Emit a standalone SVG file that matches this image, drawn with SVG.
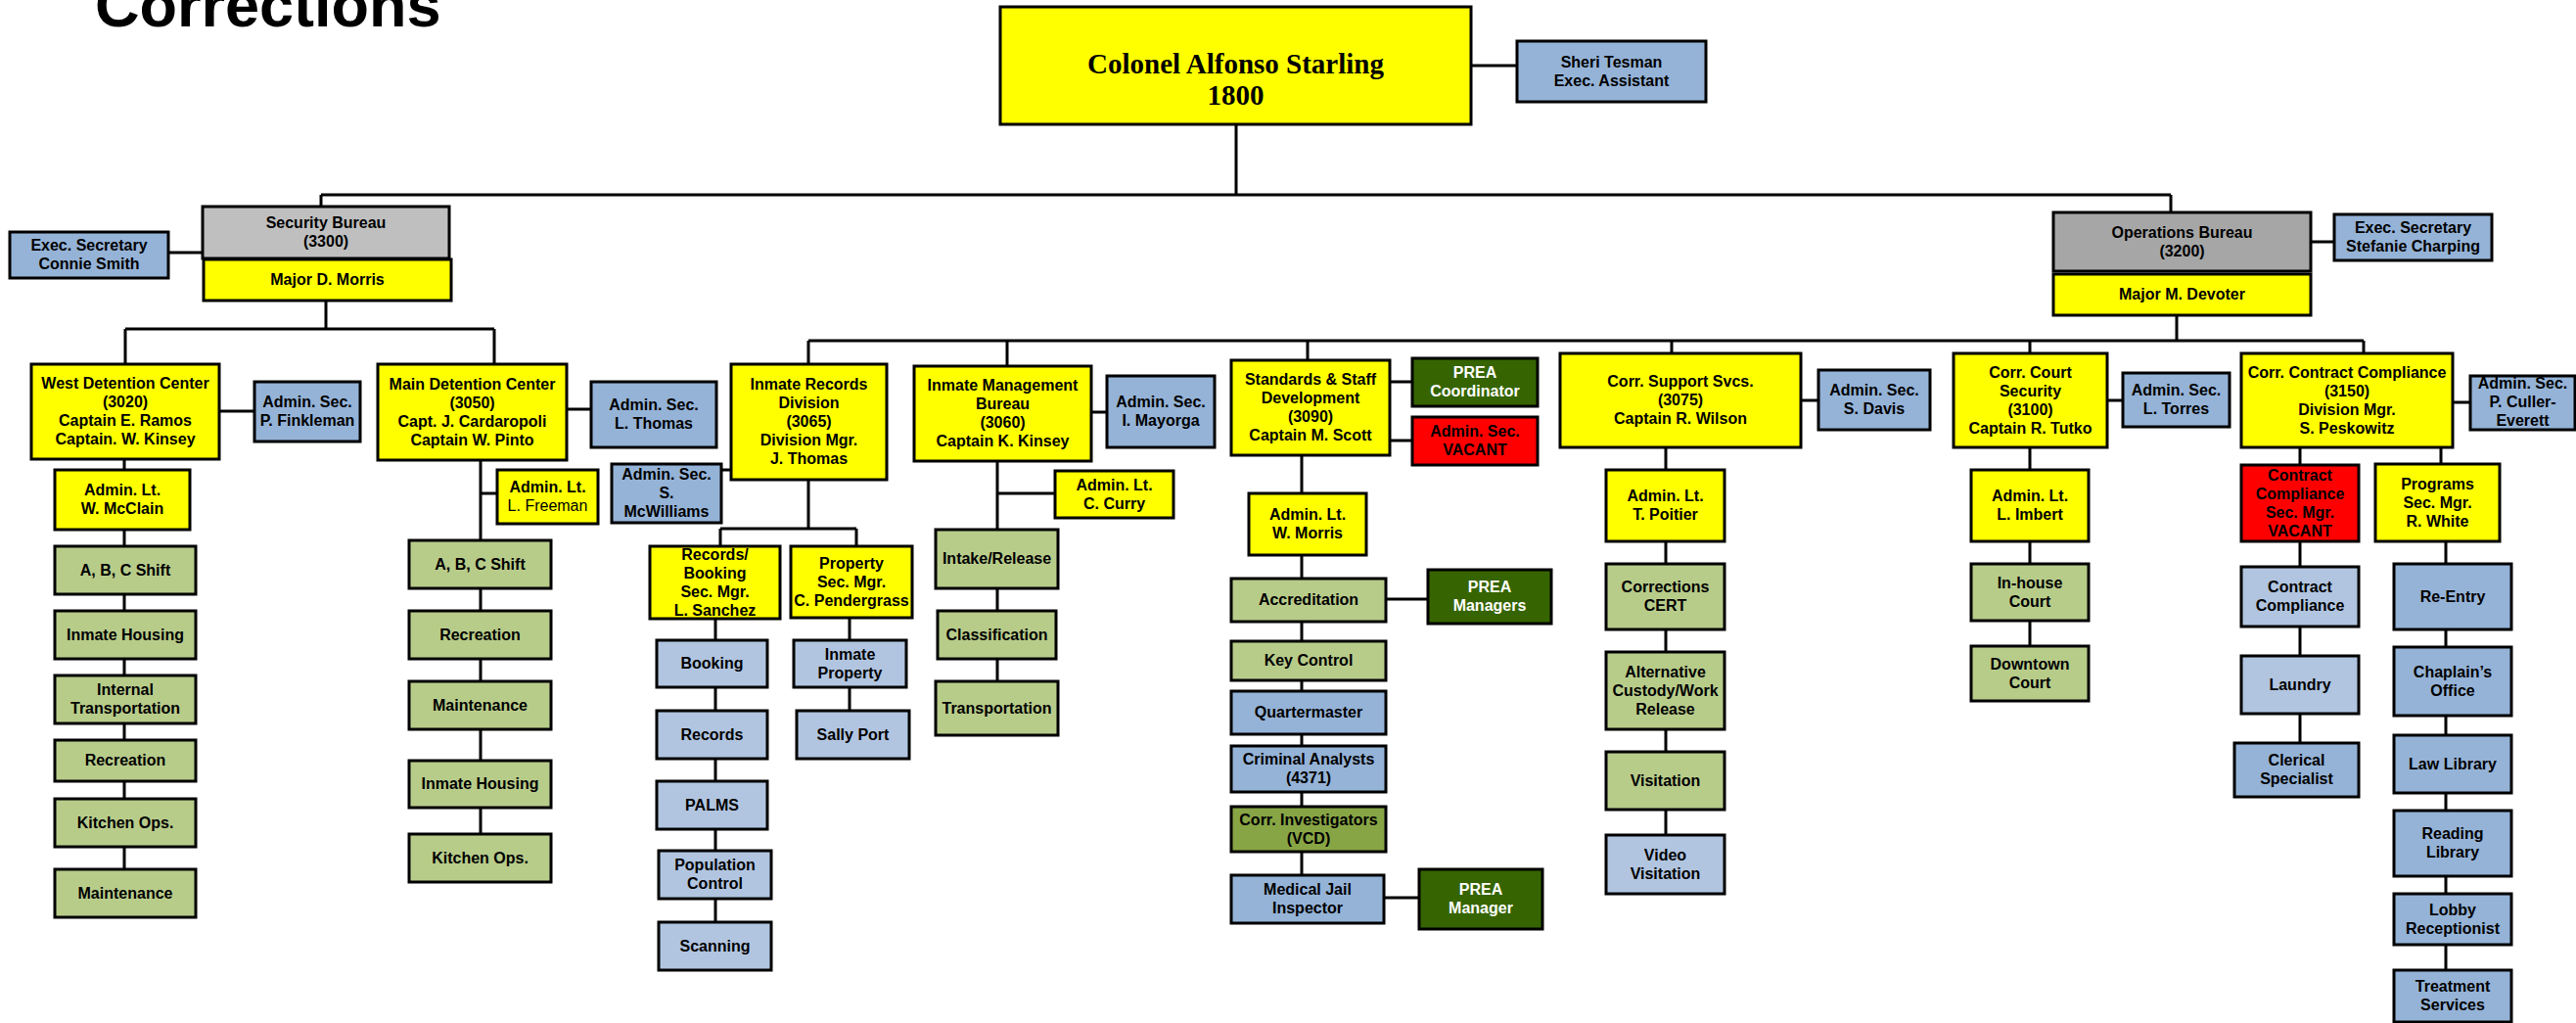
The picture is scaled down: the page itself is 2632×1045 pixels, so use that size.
<svg xmlns="http://www.w3.org/2000/svg" width="2632" height="1045" viewBox="0 0 2632 1045">
<style>
rect{stroke:#000;stroke-width:3}
.y{fill:#FFFF00}.g1{fill:#BFBFBF}.g2{fill:#A6A6A6}.bl{fill:#95B3D7}.lb{fill:#B1C5E0}.gr{fill:#B8CC8A}.ol{fill:#88A545}.dg{fill:#366400}.rd{fill:#FF0000}
text{font-family:"Liberation Sans",Arial,sans-serif;font-size:16px;font-weight:bold;text-anchor:middle;fill:#000}
text.w{fill:#fff}
text.serif{font-family:"Liberation Serif","Times New Roman",serif;font-size:29px}
.reg{font-weight:normal}
text.title{font-size:63px;text-anchor:start}
#connectors path{fill:none;stroke:#000;stroke-width:3}
</style>
<rect x="0" y="0" width="2632" height="1045" style="fill:#fff;stroke:none"/>
<text class="title" x="97" y="27">Corrections</text>
<g id="connectors">
<path d="M1263 127V199M328 199H2218M328 199V211M2218 199V217M1503 67H1550M172 258H207M2361 247H2385M333 307V336M128 336H505M128 336V372M505 336V372M224 420H260M127 469V888M579 418H604M491 470V852M491 504H508M2224 322V348M826 348H2415M826 348V372M737 480H747M826 490V540M736 540H875M736 540V558M875 540V558M731 632V942M868 631V726M1029 348V374M1115 421H1131M1019 471V696M1019 504H1078M1336 348V368M1420 390H1443M1420 450H1443M1330 465V894M1416 612H1459M1414 917H1450M1708 348V361M1840 409H1858M1702 457V853M2074 348V361M2153 409H2169M2074 457V660M2415 348V361M2506 411H2524M2350 457V759M2494 457V474M2499 553V991"/>
</g>
<g id="colonel"><rect class="y" x="1022" y="7" width="481" height="120"/><text class="serif"><tspan x="1262.5" y="75">Colonel Alfonso Starling</tspan><tspan x="1262.5" y="107">1800</tspan></text></g>
<g id="sheri"><rect class="bl" x="1550" y="42" width="193" height="62"/><text><tspan x="1646.5" y="68.5">Sheri Tesman</tspan><tspan x="1646.5" y="87.5">Exec. Assistant</tspan></text></g>
<g id="security-bureau"><rect class="g1" x="207" y="211" width="252" height="53"/><text><tspan x="333" y="233">Security Bureau</tspan><tspan x="333" y="252">(3300)</tspan></text></g>
<g id="major-morris"><rect class="y" x="208" y="265" width="253" height="42"/><text x="334.5" y="291">Major D. Morris</text></g>
<g id="connie"><rect class="bl" x="10" y="237" width="162" height="47"/><text><tspan x="91" y="256">Exec. Secretary</tspan><tspan x="91" y="275">Connie Smith</tspan></text></g>
<g id="operations-bureau"><rect class="g2" x="2098" y="217" width="263" height="60"/><text><tspan x="2229.5" y="242.5">Operations Bureau</tspan><tspan x="2229.5" y="261.5">(3200)</tspan></text></g>
<g id="major-devoter"><rect class="y" x="2098" y="280" width="263" height="42"/><text x="2229.5" y="306">Major M. Devoter</text></g>
<g id="stefanie"><rect class="bl" x="2385" y="219" width="161" height="47"/><text><tspan x="2465.5" y="238">Exec. Secretary</tspan><tspan x="2465.5" y="257">Stefanie Charping</tspan></text></g>
<g id="west-dc"><rect class="y" x="32" y="372" width="192" height="97"/><text><tspan x="128" y="397">West Detention Center</tspan><tspan x="128" y="416">(3020)</tspan><tspan x="128" y="435">Captain E. Ramos</tspan><tspan x="128" y="454">Captain. W. Kinsey</tspan></text></g>
<g id="finkleman"><rect class="bl" x="260" y="390" width="108" height="61"/><text><tspan x="314" y="416">Admin. Sec.</tspan><tspan x="314" y="435">P. Finkleman</tspan></text></g>
<g id="mcclain"><rect class="y" x="56" y="480" width="138" height="61"/><text><tspan x="125" y="506">Admin. Lt.</tspan><tspan x="125" y="525">W. McClain</tspan></text></g>
<g id="west-abc"><rect class="gr" x="56" y="558" width="144" height="49"/><text x="128" y="587.5">A, B, C Shift</text></g>
<g id="west-housing"><rect class="gr" x="56" y="624" width="144" height="49"/><text x="128" y="653.5">Inmate Housing</text></g>
<g id="west-transport"><rect class="gr" x="56" y="690" width="144" height="49"/><text><tspan x="128" y="710">Internal</tspan><tspan x="128" y="729">Transportation</tspan></text></g>
<g id="west-rec"><rect class="gr" x="56" y="756" width="144" height="42"/><text x="128" y="782">Recreation</text></g>
<g id="west-kitchen"><rect class="gr" x="56" y="816" width="144" height="49"/><text x="128" y="845.5">Kitchen Ops.</text></g>
<g id="west-maint"><rect class="gr" x="56" y="888" width="144" height="49"/><text x="128" y="917.5">Maintenance</text></g>
<g id="main-dc"><rect class="y" x="386" y="372" width="193" height="98"/><text><tspan x="482.5" y="397.5">Main Detention Center</tspan><tspan x="482.5" y="416.5">(3050)</tspan><tspan x="482.5" y="435.5">Capt. J. Cardaropoli</tspan><tspan x="482.5" y="454.5">Captain W. Pinto</tspan></text></g>
<g id="lthomas"><rect class="bl" x="604" y="390" width="128" height="67"/><text><tspan x="668" y="419">Admin. Sec.</tspan><tspan x="668" y="438">L. Thomas</tspan></text></g>
<g id="freeman"><rect class="y" x="508" y="480" width="103" height="55"/><text><tspan x="559.5" y="503">Admin. Lt.</tspan><tspan class="reg" x="559.5" y="522">L. Freeman</tspan></text></g>
<g id="main-abc"><rect class="gr" x="418" y="552" width="145" height="49"/><text x="490.5" y="581.5">A, B, C Shift</text></g>
<g id="main-rec"><rect class="gr" x="418" y="624" width="145" height="49"/><text x="490.5" y="653.5">Recreation</text></g>
<g id="main-maint"><rect class="gr" x="418" y="696" width="145" height="49"/><text x="490.5" y="725.5">Maintenance</text></g>
<g id="main-housing"><rect class="gr" x="418" y="777" width="145" height="48"/><text x="490.5" y="806">Inmate Housing</text></g>
<g id="main-kitchen"><rect class="gr" x="418" y="852" width="145" height="49"/><text x="490.5" y="881.5">Kitchen Ops.</text></g>
<g id="mcwilliams"><rect class="bl" x="625" y="474" width="112" height="60"/><text><tspan x="681" y="489.5">Admin. Sec.</tspan><tspan x="681" y="508.5">S.</tspan><tspan x="681" y="527.5">McWilliams</tspan></text></g>
<g id="inmate-records"><rect class="y" x="747" y="372" width="159" height="118"/><text><tspan x="826.5" y="398">Inmate Records</tspan><tspan x="826.5" y="417">Division</tspan><tspan x="826.5" y="436">(3065)</tspan><tspan x="826.5" y="455">Division Mgr.</tspan><tspan x="826.5" y="474">J. Thomas</tspan></text></g>
<g id="records-booking"><rect class="y" x="664" y="558" width="133" height="74"/><text><tspan x="730.5" y="571.5">Records/</tspan><tspan x="730.5" y="590.5">Booking</tspan><tspan x="730.5" y="609.5">Sec. Mgr.</tspan><tspan x="730.5" y="628.5">L. Sanchez</tspan></text></g>
<g id="property"><rect class="y" x="808" y="558" width="124" height="73"/><text><tspan x="870" y="580.5">Property</tspan><tspan x="870" y="599.5">Sec. Mgr.</tspan><tspan x="870" y="618.5">C. Pendergrass</tspan></text></g>
<g id="booking"><rect class="lb" x="671" y="654" width="113" height="48"/><text x="727.5" y="683">Booking</text></g>
<g id="records"><rect class="lb" x="671" y="726" width="113" height="49"/><text x="727.5" y="755.5">Records</text></g>
<g id="palms"><rect class="lb" x="671" y="798" width="113" height="49"/><text x="727.5" y="827.5">PALMS</text></g>
<g id="population-control"><rect class="lb" x="673" y="869" width="115" height="49"/><text><tspan x="730.5" y="889">Population</tspan><tspan x="730.5" y="908">Control</tspan></text></g>
<g id="scanning"><rect class="lb" x="673" y="942" width="115" height="49"/><text x="730.5" y="971.5">Scanning</text></g>
<g id="inmate-property"><rect class="lb" x="811" y="654" width="115" height="48"/><text><tspan x="868.5" y="673.5">Inmate</tspan><tspan x="868.5" y="692.5">Property</tspan></text></g>
<g id="sally-port"><rect class="lb" x="814" y="726" width="115" height="49"/><text x="871.5" y="755.5">Sally Port</text></g>
<g id="inmate-mgmt"><rect class="y" x="934" y="374" width="181" height="97"/><text><tspan x="1024.5" y="399">Inmate Management</tspan><tspan x="1024.5" y="418">Bureau</tspan><tspan x="1024.5" y="437">(3060)</tspan><tspan x="1024.5" y="456">Captain K. Kinsey</tspan></text></g>
<g id="mayorga"><rect class="bl" x="1131" y="384" width="110" height="73"/><text><tspan x="1186" y="416">Admin. Sec.</tspan><tspan x="1186" y="435">I. Mayorga</tspan></text></g>
<g id="curry"><rect class="y" x="1078" y="481" width="121" height="48"/><text><tspan x="1138.5" y="500.5">Admin. Lt.</tspan><tspan x="1138.5" y="519.5">C. Curry</tspan></text></g>
<g id="intake"><rect class="gr" x="956" y="541" width="125" height="60"/><text x="1018.5" y="576">Intake/Release</text></g>
<g id="classification"><rect class="gr" x="958" y="624" width="121" height="49"/><text x="1018.5" y="653.5">Classification</text></g>
<g id="transportation"><rect class="gr" x="956" y="696" width="125" height="55"/><text x="1018.5" y="728.5">Transportation</text></g>
<g id="standards"><rect class="y" x="1258" y="368" width="162" height="97"/><text><tspan x="1339" y="393">Standards &amp; Staff</tspan><tspan x="1339" y="412">Development</tspan><tspan x="1339" y="431">(3090)</tspan><tspan x="1339" y="450">Captain M. Scott</tspan></text></g>
<g id="prea-coordinator"><rect class="dg" x="1443" y="366" width="128" height="49"/><text class="w"><tspan x="1507" y="386">PREA</tspan><tspan x="1507" y="405">Coordinator</tspan></text></g>
<g id="admin-sec-vacant"><rect class="rd" x="1443" y="426" width="128" height="49"/><text><tspan x="1507" y="446">Admin. Sec.</tspan><tspan x="1507" y="465">VACANT</tspan></text></g>
<g id="wmorris"><rect class="y" x="1276" y="504" width="120" height="63"/><text><tspan x="1336" y="531">Admin. Lt.</tspan><tspan x="1336" y="550">W. Morris</tspan></text></g>
<g id="accreditation"><rect class="gr" x="1258" y="591" width="158" height="44"/><text x="1337" y="618">Accreditation</text></g>
<g id="prea-managers"><rect class="dg" x="1459" y="582" width="126" height="55"/><text class="w"><tspan x="1522" y="605">PREA</tspan><tspan x="1522" y="624">Managers</tspan></text></g>
<g id="key-control"><rect class="gr" x="1258" y="655" width="158" height="40"/><text x="1337" y="680">Key Control</text></g>
<g id="quartermaster"><rect class="bl" x="1258" y="706" width="158" height="44"/><text x="1337" y="733">Quartermaster</text></g>
<g id="criminal-analysts"><rect class="bl" x="1258" y="762" width="158" height="47"/><text><tspan x="1337" y="781">Criminal Analysts</tspan><tspan x="1337" y="800">(4371)</tspan></text></g>
<g id="corr-investigators"><rect class="ol" x="1258" y="824" width="158" height="46"/><text><tspan x="1337" y="842.5">Corr. Investigators</tspan><tspan x="1337" y="861.5">(VCD)</tspan></text></g>
<g id="medical-jail"><rect class="bl" x="1258" y="894" width="156" height="49"/><text><tspan x="1336" y="914">Medical Jail</tspan><tspan x="1336" y="933">Inspector</tspan></text></g>
<g id="prea-manager"><rect class="dg" x="1450" y="888" width="126" height="61"/><text class="w"><tspan x="1513" y="914">PREA</tspan><tspan x="1513" y="933">Manager</tspan></text></g>
<g id="corr-support"><rect class="y" x="1594" y="361" width="246" height="96"/><text><tspan x="1717" y="395">Corr. Support Svcs.</tspan><tspan x="1717" y="414">(3075)</tspan><tspan x="1717" y="433">Captain R. Wilson</tspan></text></g>
<g id="sdavis"><rect class="bl" x="1858" y="378" width="114" height="61"/><text><tspan x="1915" y="404">Admin. Sec.</tspan><tspan x="1915" y="423">S. Davis</tspan></text></g>
<g id="poitier"><rect class="y" x="1641" y="480" width="121" height="73"/><text><tspan x="1701.5" y="512">Admin. Lt.</tspan><tspan x="1701.5" y="531">T. Poitier</tspan></text></g>
<g id="cert"><rect class="gr" x="1641" y="576" width="121" height="67"/><text><tspan x="1701.5" y="605">Corrections</tspan><tspan x="1701.5" y="624">CERT</tspan></text></g>
<g id="alt-custody"><rect class="gr" x="1641" y="666" width="121" height="79"/><text><tspan x="1701.5" y="691.5">Alternative</tspan><tspan x="1701.5" y="710.5">Custody/Work</tspan><tspan x="1701.5" y="729.5">Release</tspan></text></g>
<g id="visitation"><rect class="gr" x="1641" y="768" width="121" height="59"/><text x="1701.5" y="802.5">Visitation</text></g>
<g id="video-visitation"><rect class="lb" x="1641" y="853" width="121" height="60"/><text><tspan x="1701.5" y="878.5">Video</tspan><tspan x="1701.5" y="897.5">Visitation</tspan></text></g>
<g id="court-security"><rect class="y" x="1996" y="361" width="157" height="96"/><text><tspan x="2074.5" y="385.5">Corr. Court</tspan><tspan x="2074.5" y="404.5">Security</tspan><tspan x="2074.5" y="423.5">(3100)</tspan><tspan x="2074.5" y="442.5">Captain R. Tutko</tspan></text></g>
<g id="torres"><rect class="bl" x="2169" y="381" width="109" height="55"/><text><tspan x="2223.5" y="404">Admin. Sec.</tspan><tspan x="2223.5" y="423">L. Torres</tspan></text></g>
<g id="imbert"><rect class="y" x="2014" y="480" width="120" height="73"/><text><tspan x="2074" y="512">Admin. Lt.</tspan><tspan x="2074" y="531">L. Imbert</tspan></text></g>
<g id="inhouse-court"><rect class="gr" x="2014" y="576" width="120" height="58"/><text><tspan x="2074" y="600.5">In-house</tspan><tspan x="2074" y="619.5">Court</tspan></text></g>
<g id="downtown-court"><rect class="gr" x="2014" y="660" width="120" height="56"/><text><tspan x="2074" y="683.5">Downtown</tspan><tspan x="2074" y="702.5">Court</tspan></text></g>
<g id="contract-compliance-div"><rect class="y" x="2290" y="361" width="216" height="96"/><text><tspan x="2398" y="385.5">Corr. Contract Compliance</tspan><tspan x="2398" y="404.5">(3150)</tspan><tspan x="2398" y="423.5">Division Mgr.</tspan><tspan x="2398" y="442.5">S. Peskowitz</tspan></text></g>
<g id="culler-everett"><rect class="bl" x="2524" y="384" width="107" height="55"/><text><tspan x="2577.5" y="396.5">Admin. Sec.</tspan><tspan x="2577.5" y="415.5">P. Culler-</tspan><tspan x="2577.5" y="434.5">Everett</tspan></text></g>
<g id="cc-vacant"><rect class="rd" x="2290" y="475" width="120" height="78"/><text><tspan x="2350" y="490.5">Contract</tspan><tspan x="2350" y="509.5">Compliance</tspan><tspan x="2350" y="528.5">Sec. Mgr.</tspan><tspan x="2350" y="547.5">VACANT</tspan></text></g>
<g id="programs"><rect class="y" x="2427" y="474" width="127" height="79"/><text><tspan x="2490.5" y="499.5">Programs</tspan><tspan x="2490.5" y="518.5">Sec. Mgr.</tspan><tspan x="2490.5" y="537.5">R. White</tspan></text></g>
<g id="contract-compliance"><rect class="lb" x="2290" y="579" width="120" height="61"/><text><tspan x="2350" y="605">Contract</tspan><tspan x="2350" y="624">Compliance</tspan></text></g>
<g id="laundry"><rect class="lb" x="2290" y="670" width="120" height="59"/><text x="2350" y="704.5">Laundry</text></g>
<g id="clerical"><rect class="bl" x="2283" y="759" width="127" height="55"/><text><tspan x="2346.5" y="782">Clerical</tspan><tspan x="2346.5" y="801">Specialist</tspan></text></g>
<g id="re-entry"><rect class="bl" x="2446" y="576" width="120" height="67"/><text x="2506" y="614.5">Re-Entry</text></g>
<g id="chaplain"><rect class="bl" x="2446" y="661" width="120" height="70"/><text><tspan x="2506" y="691.5">Chaplain’s</tspan><tspan x="2506" y="710.5">Office</tspan></text></g>
<g id="law-library"><rect class="bl" x="2446" y="751" width="120" height="59"/><text x="2506" y="785.5">Law Library</text></g>
<g id="reading-library"><rect class="bl" x="2446" y="828" width="120" height="67"/><text><tspan x="2506" y="857">Reading</tspan><tspan x="2506" y="876">Library</tspan></text></g>
<g id="lobby"><rect class="bl" x="2446" y="913" width="120" height="52"/><text><tspan x="2506" y="934.5">Lobby</tspan><tspan x="2506" y="953.5">Receptionist</tspan></text></g>
<g id="treatment"><rect class="bl" x="2446" y="991" width="120" height="53"/><text><tspan x="2506" y="1013">Treatment</tspan><tspan x="2506" y="1032">Services</tspan></text></g>
</svg>
